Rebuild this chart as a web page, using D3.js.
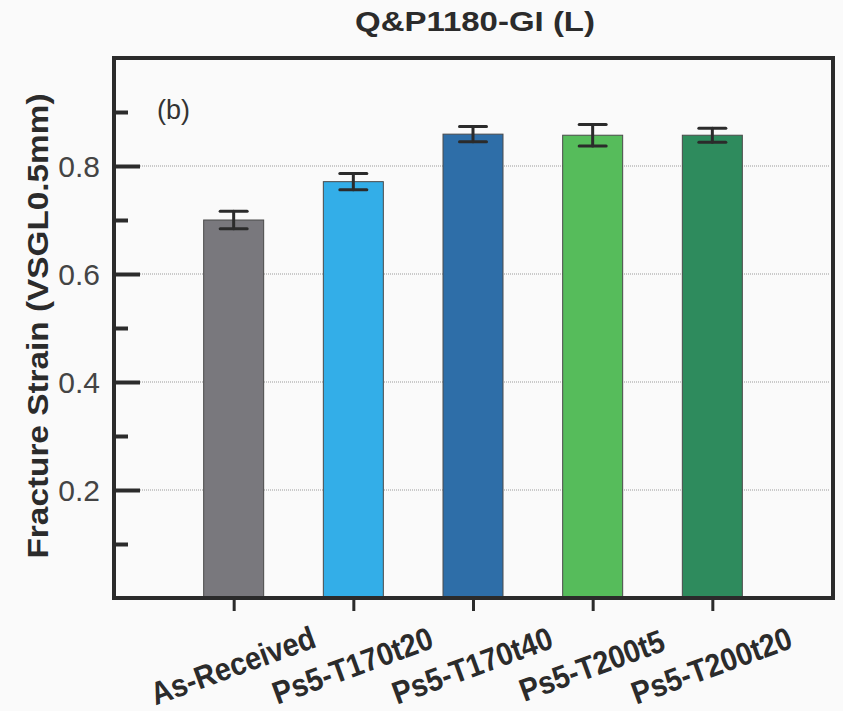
<!DOCTYPE html>
<html lang="en">
<head>
    <meta charset="UTF-8">
    <title>Q&amp;P1180-GI (L)</title>
    <script src="https://d3js.org/d3.v7.min.js"></script>
    <style>
        body { margin: 0; background: #fafafa; }
        text { font-family: "Liberation Sans", Arial, sans-serif; }
    </style>
</head>
<body>
<script>
    const width = 843;
    const height = 711;

    // data
    const categories = ["As-Received", "Ps5-T170t20", "Ps5-T170t40", "Ps5-T200t5", "Ps5-T200t20"];
    const values     = [0.700, 0.771, 0.859, 0.857, 0.857];
    const errors     = [0.016, 0.015, 0.014, 0.020, 0.013];
    const colors     = ["#79787d", "#33aee8", "#2e6ea8", "#56bc5b", "#2e8b5d"];
    const majorTicks = [0.2, 0.4, 0.6, 0.8];
    const minorTicks = [0.1, 0.3, 0.5, 0.7, 0.9];

    const frame = {left: 114, right: 832, top: 58, bottom: 598};

    const svg = d3.select("body").append("svg")
            .attr("width", width).attr("height", height);

    svg.append("rect").attr("width", width).attr("height", height).attr("fill", "#fafafa");

    const x = d3.scalePoint()
            .domain(categories)
            .range([frame.left, frame.right])
            .padding(1);

    const y = d3.scaleLinear()
            .domain([0, 1.0])
            .range([frame.bottom, frame.top]);

    const barWidth = 60;

    // dotted grid lines at major ticks
    svg.append("g").attr("class", "grid")
        .selectAll("line")
        .data(majorTicks)
        .enter().append("line")
            .attr("x1", frame.left + 26).attr("x2", frame.right - 3)
            .attr("y1", d => y(d)).attr("y2", d => y(d))
            .style("stroke", "#9a9a9a")
            .style("stroke-width", 1)
            .style("stroke-dasharray", "1,1");

    // bars
    svg.append("g").attr("class", "bars")
        .selectAll("rect")
        .data(categories)
        .enter().append("rect")
            .attr("x", d => x(d) - barWidth / 2)
            .attr("y", (d, i) => y(values[i]))
            .attr("width", barWidth)
            .attr("height", (d, i) => y(0) - y(values[i]))
            .style("fill", (d, i) => colors[i])
            .style("stroke", "#4a4a4a")
            .style("stroke-width", 1);

    // error bars
    const capW = 27;
    const err = svg.append("g").attr("class", "errors")
        .selectAll("g")
        .data(categories)
        .enter().append("g")
        .style("stroke", "#2b2b2b")
        .style("stroke-width", 3)
        .style("stroke-linecap", "round");

    err.append("line")
        .attr("x1", d => x(d)).attr("x2", d => x(d))
        .attr("y1", (d, i) => y(values[i] + errors[i]))
        .attr("y2", (d, i) => y(values[i] - errors[i]));
    err.append("line")
        .attr("x1", d => x(d) - capW / 2).attr("x2", d => x(d) + capW / 2)
        .attr("y1", (d, i) => y(values[i] + errors[i]))
        .attr("y2", (d, i) => y(values[i] + errors[i]));
    err.append("line")
        .attr("x1", d => x(d) - capW / 2).attr("x2", d => x(d) + capW / 2)
        .attr("y1", (d, i) => y(values[i] - errors[i]))
        .attr("y2", (d, i) => y(values[i] - errors[i]));

    // y axis: major ticks with labels, minor ticks without
    const yMajor = svg.append("g").attr("class", "y major")
            .attr("transform", `translate(${frame.left},0)`)
            .call(d3.axisLeft(y).tickValues(majorTicks).tickSize(-26)
                    .tickFormat(d3.format(".1f")));
    const yMinor = svg.append("g").attr("class", "y minor")
            .attr("transform", `translate(${frame.left},0)`)
            .call(d3.axisLeft(y).tickValues(minorTicks).tickSize(-14).tickFormat(""));

    [yMajor, yMinor].forEach(g => {
        g.select(".domain").remove();
        g.selectAll(".tick line").style("stroke", "#2b2b2b").style("stroke-width", 4);
    });
    yMajor.selectAll(".tick text")
            .attr("x", -14)
            .attr("dy", "0.34em")
            .style("font-size", "30px")
            .style("fill", "#444")
            .style("font-family", "'Liberation Sans', Arial, sans-serif");

    // x axis ticks and rotated labels
    const xAxis = svg.append("g").attr("class", "x")
            .attr("transform", `translate(0,${frame.bottom})`)
            .call(d3.axisBottom(x).tickSize(13).tickFormat(""));
    xAxis.select(".domain").remove();
    xAxis.selectAll(".tick line").style("stroke", "#2b2b2b").style("stroke-width", 3);

    svg.append("g").attr("class", "xlabels")
        .selectAll("text")
        .data(categories)
        .enter().append("text")
            .attr("transform", d => `translate(${x(d) + 3},${frame.bottom + 78}) rotate(-20) scale(0.9,1)`)
            .attr("text-anchor", "middle")
            .style("font-size", "32px")
            .style("font-weight", "bold")
            .style("fill", "#2b2b2b")
            .text(d => d);

    // frame
    svg.append("rect")
            .attr("x", frame.left).attr("y", frame.top)
            .attr("width", frame.right - frame.left + 1)
            .attr("height", frame.bottom - frame.top)
            .style("fill", "none")
            .style("stroke", "#2b2b2b")
            .style("stroke-width", 4);

    // panel label
    svg.append("text")
            .attr("x", 157).attr("y", 119)
            .style("font-size", "27px")
            .style("fill", "#333")
            .text("(b)");

    // title
    svg.append("text")
            .attr("x", 475).attr("y", 31)
            .attr("text-anchor", "middle")
            .attr("textLength", 240)
            .attr("lengthAdjust", "spacingAndGlyphs")
            .style("font-size", "27px")
            .style("font-weight", "bold")
            .style("fill", "#2b2b2b")
            .text("Q&P1180-GI (L)");

    // y axis title
    svg.append("text")
            .attr("transform", "translate(48,326) rotate(-90)")
            .attr("text-anchor", "middle")
            .attr("textLength", 465)
            .attr("lengthAdjust", "spacingAndGlyphs")
            .style("font-size", "30px")
            .style("font-weight", "bold")
            .style("fill", "#2b2b2b")
            .text("Fracture Strain (VSGL0.5mm)");
</script>
</body>
</html>
